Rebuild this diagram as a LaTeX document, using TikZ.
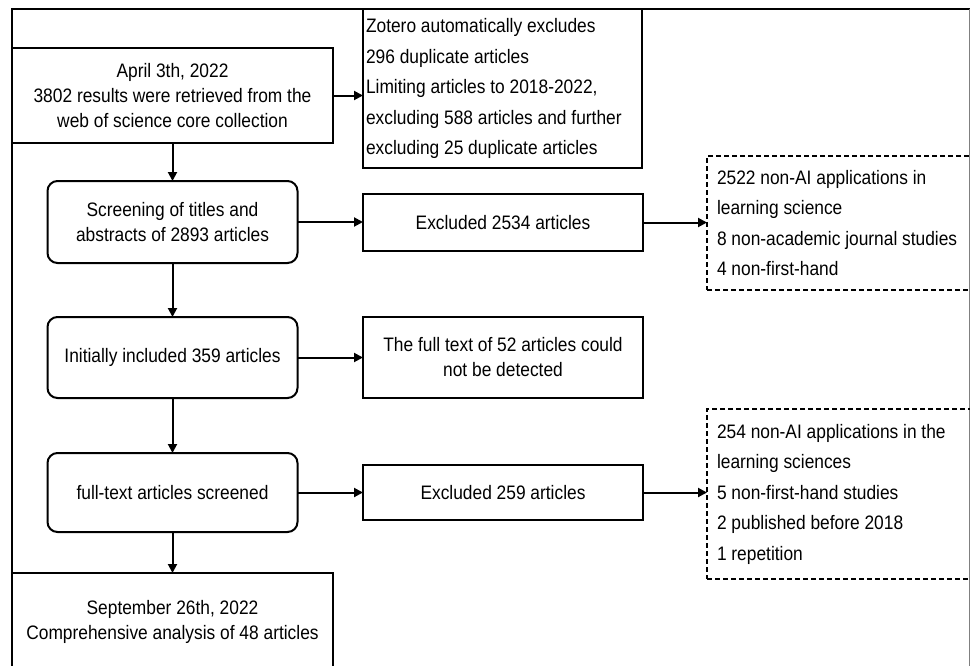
\documentclass[tikz,border=0pt]{standalone}
\usepackage{fontspec}
\setmainfont[FakeStretch=0.89]{Liberation Sans}
\usetikzlibrary{calc}
\usetikzlibrary{arrows.meta}

\begin{document}
\begin{tikzpicture}[x=1pt, y=-1pt,
  box/.style={draw, line width=2pt, align=center, inner sep=2pt, outer sep=0pt,
    font=\fontsize{19.5}{25}\selectfont},
  rbox/.style={box, rounded corners=10pt},
  listbox/.style={draw, line width=2pt, align=flush left, anchor=north west,
    inner xsep=3pt, inner ysep=2pt, outer sep=0pt, font=\fontsize{19.5}{30.5}\selectfont},
  dashbox/.style={listbox, dash pattern=on 5pt off 3pt, inner xsep=10pt},
  flow/.style={line width=2pt, -{Triangle[length=9pt,width=9pt]}}]

\useasboundingbox (0,0) rectangle (970,665);
\clip (0,0) rectangle (970,665);

% outer frame
\draw[line width=2.5pt] (12,670) -- (12,9) -- (972,9);
\draw[gray, line width=1pt] (969,9) -- (969,670);

% left column
\node[box, anchor=north west, minimum width=321, minimum height=95] (april) at (12,48)
  {April 3th, 2022\\3802 results were retrieved from the\\web of science core collection};
\node[rbox, minimum width=250, minimum height=82] (screen) at (172.5,222)
  {Screening of titles and\\abstracts of 2893 articles};
\node[rbox, minimum width=250, minimum height=81] (initial) at (172.5,357.5)
  {Initially included 359 articles};
\node[rbox, minimum width=250, minimum height=79] (screened) at (172.5,492.5)
  {full-text articles screened};
\node[box, anchor=north west, minimum width=321, minimum height=97] (final) at (12,573)
  {September 26th, 2022\\Comprehensive analysis of 48 articles};

% middle column
\node[listbox, text width=273, minimum height=159] (zotero) at (363,9)
  {Zotero automatically excludes\\296 duplicate articles\\Limiting articles to 2018-2022,\\excluding 588 articles and further\\excluding 25 duplicate articles};
\node[box, minimum width=280, minimum height=57] (excl1) at (503,222.5)
  {Excluded 2534 articles};
\node[box, minimum width=280, minimum height=81] (fulltext) at (503,357.5)
  {The full text of 52 articles could\\not be detected};
\node[box, minimum width=280, minimum height=55] (excl2) at (503,492.5)
  {Excluded 259 articles};

% right column
\node[dashbox, text width=260, minimum height=134] (reason1) at (707,156)
  {2522 non-AI applications in\\learning science\\8 non-academic journal studies\\4 non-first-hand};
\node[dashbox, text width=260, minimum height=170] (reason2) at (707,409)
  {254 non-AI applications in the\\learning sciences\\5 non-first-hand studies\\2 published before 2018\\1 repetition};

% arrows
\draw[flow] (april.south) -- (screen.north);
\draw[flow] (screen.south) -- (initial.north);
\draw[flow] (initial.south) -- (screened.north);
\draw[flow] (screened.south) -- (final.north);
\draw[flow] (april.east) -- (april.east -| zotero.west);
\draw[flow] (screen.east) -- (screen.east -| excl1.west);
\draw[flow] (initial.east) -- (fulltext.west);
\draw[flow] (screened.east) -- (excl2.west);
\draw[flow] (excl1.east) -- (excl1.east -| reason1.west);
\draw[flow] (excl2.east) -- (excl2.east -| reason2.west);

\end{tikzpicture}
\end{document}
